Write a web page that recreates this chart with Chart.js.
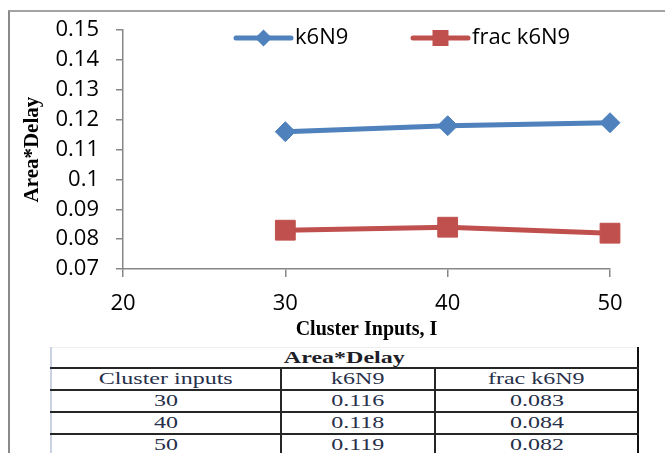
<!DOCTYPE html>
<html>
<head>
<meta charset="utf-8">
<title>Area*Delay</title>
<script src="https://cdn.jsdelivr.net/npm/chart.js@4.4.1/dist/chart.umd.min.js"></script>
<style>
  html, body { margin: 0; padding: 0; background: #fff; width: 665px; height: 453px; overflow: hidden; }
  #frame { position: absolute; left: 8px; top: 10px; width: 720px; height: 520px;
           border-left: 2px solid #8a8a8a; border-top: 2px solid #a3a3a3; }
  #c { position: absolute; left: 0; top: 0; }
  #tbl { position: absolute; left: 50px; top: 347px; border-collapse: collapse; table-layout: fixed;
         font-family: "Liberation Serif", "Times New Roman", serif; font-size: 16px; color: #27304a; }
  #tbl td { padding: 0; height: 20px; line-height: 20px; text-align: center; white-space: nowrap;
            overflow: hidden; border: 2px solid #262626; }
  #tbl tr.head td { height: 19px; line-height: 19px; border-top: 1px solid #eeeeee; font-weight: bold; color: #1e1e28; }
  #tbl td.first { border-left: 2px solid #c9d1e2; }
  #tbl td.last { border-right: 2px solid #111; }
  #tbl span { display: inline-block; transform: scaleX(1.5); }
</style>
</head>
<body>
<div id="frame"></div>
<canvas id="c" width="665" height="345"></canvas>
<table id="tbl"></table>
<script>
// Cluster inputs (x) and Area*Delay per architecture
const clusterInputs = [30, 40, 50];
const k6N9 = [0.116, 0.118, 0.119];
const fracK6N9 = [0.083, 0.084, 0.082];
const seriesNames = ['k6N9', 'frac k6N9'];

// Axis ticks
const xTickValues = [20, 30, 40, 50];
const yTickValues = [0.07, 0.08, 0.09, 0.10, 0.11, 0.12, 0.13, 0.14, 0.15];
const yTickLabels = ['0.07', '0.08', '0.09', '0.1', '0.11', '0.12', '0.13', '0.14', '0.15'];

// Table texts
const tableTitle = 'Area*Delay';
const tableHeads = ['Cluster inputs', 'k6N9', 'frac k6N9'];

const BLUE = '#4f81bd';
const RED = '#c0504d';
const AXIS = '#878787';
const TICK_FONT = { family: '"Open Sans", "Liberation Sans", sans-serif', size: 22 };
const TITLE_FONT = { family: '"Liberation Serif", "Times New Roman", serif', size: 20, weight: 'bold' };

const toPoints = (ys) => clusterInputs.map((x, i) => ({ x, y: ys[i] }));

// Legend: a short line with the series marker, followed by the name
const lineLegend = {
  id: 'lineLegend',
  afterDraw(chart) {
    const ctx = chart.ctx;
    const y = 38, len = 55;
    const starts = [236, 413];
    ctx.save();
    chart.data.datasets.forEach((ds, i) => {
      const x0 = starts[i], cx = x0 + len / 2;
      ctx.strokeStyle = ds.borderColor;
      ctx.fillStyle = ds.pointBackgroundColor;
      ctx.lineWidth = ds.borderWidth;
      ctx.lineCap = 'round';
      ctx.beginPath(); ctx.moveTo(x0, y); ctx.lineTo(x0 + len, y); ctx.stroke();
      ctx.beginPath();
      if (ds.pointStyle === 'rectRot') {
        const r = 8.5;
        ctx.moveTo(cx - r, y); ctx.lineTo(cx, y - r); ctx.lineTo(cx + r, y); ctx.lineTo(cx, y + r);
      } else {
        const h = 8;
        ctx.rect(cx - h, y - h, 2 * h, 2 * h);
      }
      ctx.closePath(); ctx.fill();
      ctx.fillStyle = '#000';
      ctx.font = `${TICK_FONT.size}px ${TICK_FONT.family}`;
      ctx.textBaseline = 'middle';
      ctx.textAlign = 'left';
      ctx.fillText(ds.label, x0 + len + 4, y);
    });
    ctx.restore();
  }
};

new Chart(document.getElementById('c'), {
  type: 'line',
  data: {
    datasets: [
      {
        label: seriesNames[0], data: toPoints(k6N9),
        borderColor: BLUE, backgroundColor: BLUE, borderWidth: 5,
        pointStyle: 'rectRot', pointRadius: 10, pointBackgroundColor: BLUE,
        pointBorderColor: BLUE, pointBorderWidth: 1, tension: 0, clip: false
      },
      {
        label: seriesNames[1], data: toPoints(fracK6N9),
        borderColor: RED, backgroundColor: RED, borderWidth: 5,
        pointStyle: 'rect', pointRadius: 14, pointBackgroundColor: RED,
        pointBorderColor: RED, pointBorderWidth: 1, tension: 0, clip: false
      }
    ]
  },
  options: {
    responsive: false,
    animation: false,
    devicePixelRatio: 1,
    layout: { padding: { left: 0, right: 55, top: 29, bottom: 0 } },
    plugins: { legend: { display: false }, tooltip: { enabled: false } },
    scales: {
      x: {
        type: 'linear', min: 20, max: 50,
        afterBuildTicks: (s) => { s.ticks = xTickValues.map(v => ({ value: v })); },
        afterFit: (s) => { s.height = 76; },
        grid: { display: true, drawOnChartArea: false, drawTicks: true, tickLength: 8, color: AXIS, lineWidth: 1.5 },
        border: { display: true, color: AXIS, width: 1.5 },
        ticks: { font: TICK_FONT, color: '#000', padding: 14, maxRotation: 0, callback: (v) => String(v) },
        title: { display: true, text: 'Cluster Inputs, I', font: TITLE_FONT, color: '#000', padding: { top: 0, bottom: 3 } }
      },
      y: {
        type: 'linear', min: 0.07, max: 0.15,
        afterBuildTicks: (s) => { s.ticks = yTickValues.map(v => ({ value: v })); },
        afterFit: (s) => { s.width = 123; },
        grid: { display: true, drawOnChartArea: false, drawTicks: true, tickLength: 7, color: AXIS, lineWidth: 1.5 },
        border: { display: true, color: AXIS, width: 1.5 },
        ticks: { font: TICK_FONT, color: '#000', padding: 17, callback: (v, i) => yTickLabels[i] },
        title: { display: true, text: 'Area*Delay', font: { ...TITLE_FONT, size: 21 }, color: '#000', padding: { top: 20, bottom: 0 } }
      }
    }
  },
  plugins: [lineLegend]
});

// Values table under the chart
(function buildTable() {
  const tbl = document.getElementById('tbl');
  const colgroup = document.createElement('colgroup');
  [230, 154, 203].forEach(w => { const c = document.createElement('col'); c.style.width = w + 'px'; colgroup.appendChild(c); });
  tbl.appendChild(colgroup);
  const body = document.createElement('tbody');
  tbl.appendChild(body);
  const addRow = (cells, span, cls) => {
    const tr = document.createElement('tr');
    if (cls) tr.className = cls;
    cells.forEach((t, i) => {
      const td = document.createElement('td');
      if (span) td.colSpan = span;
      if (i === 0) td.classList.add('first');
      if (i === cells.length - 1) td.classList.add('last');
      const s = document.createElement('span');
      s.textContent = t;
      td.appendChild(s);
      tr.appendChild(td);
    });
    body.appendChild(tr);
  };
  addRow([tableTitle], 3, 'head');
  addRow(tableHeads);
  clusterInputs.forEach((x, i) => addRow([String(x), k6N9[i].toFixed(3), fracK6N9[i].toFixed(3)]));
})();
</script>
</body>
</html>
